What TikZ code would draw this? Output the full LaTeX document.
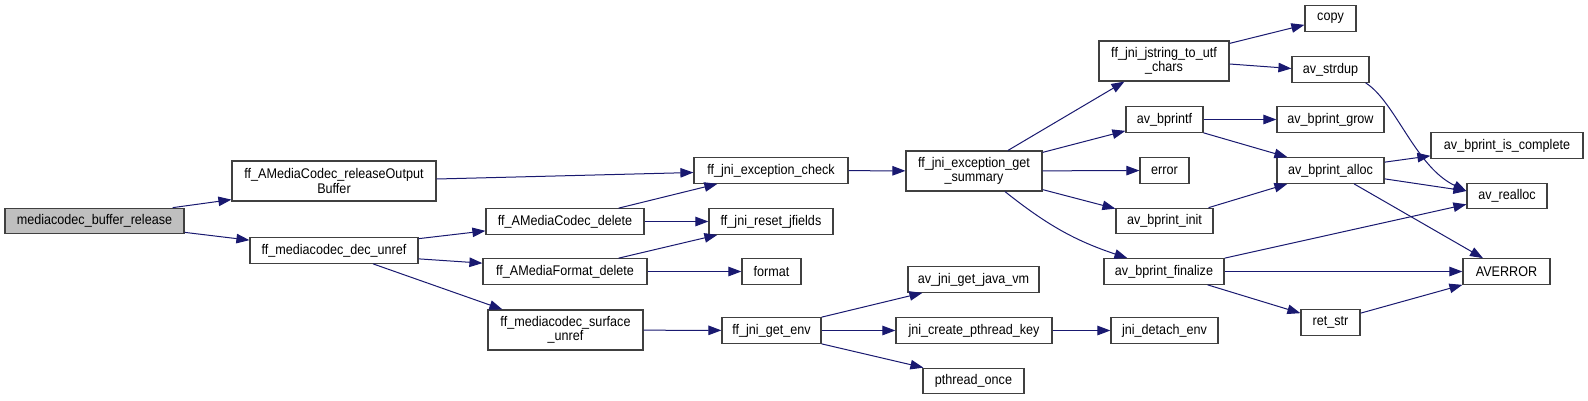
\documentclass[tikz,border=0pt]{standalone}
\usepackage{fontspec}
\setmainfont{Liberation Sans}[FakeStretch=0.9]
\usetikzlibrary{arrows.meta,calc}
\definecolor{edgeblue}{HTML}{191970}
\definecolor{boxline}{HTML}{404040}
\definecolor{rootfill}{HTML}{BFBFBF}

\begin{document}
\begin{tikzpicture}[x=1pt, y=-1pt,
  fnbox/.style={rectangle, draw=boxline, line width=1.2pt, fill=white, minimum width=#1, minimum height=25.5pt, inner sep=0pt, align=center, font=\fontsize{14}{14.5}\selectfont},
  tall/.style={minimum height=40pt},
  call/.style={-{Triangle[length=13pt, width=9.5pt]}, line width=1pt, edgeblue}
]
  \path[fill=white] (0,0) rectangle (1588,400);

  \node[fnbox=179pt, fill=rootfill] (root) at (94.5,221) {mediacodec\_buffer\_release};
  \node[fnbox=204pt, tall] (relout) at (334,181) {ff\_AMediaCodec\_releaseOutput\\Buffer};
  \node[fnbox=168pt] (decunref) at (334,250.5) {ff\_mediacodec\_dec\_unref};
  \node[fnbox=154pt] (excheck) at (771,170.5) {ff\_jni\_exception\_check};
  \node[fnbox=158pt] (codecdel) at (565,221.5) {ff\_AMediaCodec\_delete};
  \node[fnbox=124pt] (resetjf) at (771,221.5) {ff\_jni\_reset\_jfields};
  \node[fnbox=164pt] (fmtdel) at (565,271.5) {ff\_AMediaFormat\_delete};
  \node[fnbox=59pt] (format) at (771.5,271.5) {format};
  \node[fnbox=155pt, tall] (surfunref) at (565.5,330) {ff\_mediacodec\_surface\\\_unref};
  \node[fnbox=99pt] (getenv) at (771.5,330.5) {ff\_jni\_get\_env};
  \node[fnbox=136pt, tall] (summary) at (974,171) {ff\_jni\_exception\_get\\\_summary};
  \node[fnbox=131pt] (javavm) at (973.5,279.5) {av\_jni\_get\_java\_vm};
  \node[fnbox=156pt] (pthkey) at (974,330.5) {jni\_create\_pthread\_key};
  \node[fnbox=101pt] (pthonce) at (973.5,381) {pthread\_once};
  \node[fnbox=130pt, tall] (jstring) at (1164,61) {ff\_jni\_jstring\_to\_utf\\\_chars};
  \node[fnbox=77pt] (bprintf) at (1164.5,119.5) {av\_bprintf};
  \node[fnbox=49pt] (error) at (1164.5,170.5) {error};
  \node[fnbox=97pt] (bpinit) at (1164.5,221) {av\_bprint\_init};
  \node[fnbox=120pt] (bpfinal) at (1164,271.5) {av\_bprint\_finalize};
  \node[fnbox=107pt] (detach) at (1164.5,330.5) {jni\_detach\_env};
  \node[fnbox=51pt] (copy) at (1330.5,18.5) {copy};
  \node[fnbox=77pt] (strdup) at (1330.5,69.5) {av\_strdup};
  \node[fnbox=107pt] (bpgrow) at (1330.5,119.5) {av\_bprint\_grow};
  \node[fnbox=107pt] (bpalloc) at (1330.5,170.5) {av\_bprint\_alloc};
  \node[fnbox=59pt] (retstr) at (1330.5,322.5) {ret\_str};
  \node[fnbox=152pt] (iscomplete) at (1507,145.5) {av\_bprint\_is\_complete};
  \node[fnbox=80pt] (realloc) at (1507,196) {av\_realloc};
  \node[fnbox=87pt] (averror) at (1506.5,271.5) {AVERROR};

  \draw[call] ([xshift=-12pt]root.north east) -- ([yshift=2pt]relout.south west);
  \draw[call] ([yshift=2pt]root.south east) -- ([yshift=-3pt]decunref.north west);
  \draw[call] ([yshift=2pt]relout.east) -- ([yshift=-2pt]excheck.west);
  \draw[call] ([yshift=-1.5pt]decunref.north east) -- ([yshift=4pt]codecdel.south west);
  \draw[call] ([yshift=5pt]decunref.south east) -- ([yshift=-5pt]fmtdel.north west);
  \draw[call] ([xshift=39pt]decunref.south) -- ([xshift=15pt]surfunref.north west);
  \draw[call] ([xshift=-26pt]codecdel.north east) -- ([xshift=24pt]excheck.south west);
  \draw[call] (codecdel) -- (resetjf);
  \draw[call] ([xshift=-29pt]fmtdel.north east) -- ([xshift=9pt]resetjf.south west);
  \draw[call] (fmtdel) -- (format);
  \draw[call] (surfunref) -- (getenv);
  \draw[call] (excheck) -- (summary);
  \draw[call] (getenv.north east) -- ([xshift=15pt]javavm.south west);
  \draw[call] (getenv) -- (pthkey);
  \draw[call] (getenv.south east) -- ([xshift=1pt]pthonce.north west);
  \draw[call] (pthkey) -- (detach);
  \draw[call] ([xshift=34pt]summary.north) -- ([xshift=26pt]jstring.south west);
  \draw[call] ([yshift=-2pt]summary.north east) -- ([yshift=2pt]bprintf.south west);
  \draw[call] (summary) -- (error);
  \draw[call] ([yshift=2pt]summary.south east) -- ([yshift=-1pt]bpinit.north west);
  \draw[call] ([xshift=31pt]summary.south) to[bend right=10] ([xshift=24pt]bpfinal.north west);
  \draw[call] ([yshift=-3pt]jstring.north east) -- ([yshift=7pt]copy.south west);
  \draw[call] ([yshift=-3pt]jstring.east) -- ([yshift=1pt]strdup.west);
  \draw[call] (bprintf) -- (bpgrow);
  \draw[call] (bprintf.south east) -- ([xshift=11pt]bpalloc.north west);
  \draw[call] ([xshift=-5pt]bpinit.north east) -- ([xshift=11pt]bpalloc.south west);
  \draw[call] (bpfinal.north east) -- ([yshift=5pt]realloc.south west);
  \draw[call] (bpfinal) -- (averror);
  \draw[call] ([xshift=-17pt]bpfinal.south east) -- ([yshift=-4pt]retstr.north west);
  \draw[call] ([yshift=-4pt]retstr.north east) -- (averror.south west);
  \coordinate (sdout) at ([xshift=-4pt]strdup.south east);
  \coordinate (rlin) at ([yshift=5pt]realloc.west);
  \draw[call] (sdout) .. controls ($(sdout)+(30,19)$) and ($(rlin)+(-51,-24)$) .. (rlin);
  \draw[call] ([yshift=-5pt]bpalloc.north east) -- ([yshift=3pt]iscomplete.south west);
  \draw[call] ([yshift=5pt]bpalloc.south east) -- ([yshift=5pt]realloc.west);
  \draw[call] ([xshift=23.5pt]bpalloc.south) -- ([xshift=-23.5pt]averror.north);
\end{tikzpicture}
\end{document}
